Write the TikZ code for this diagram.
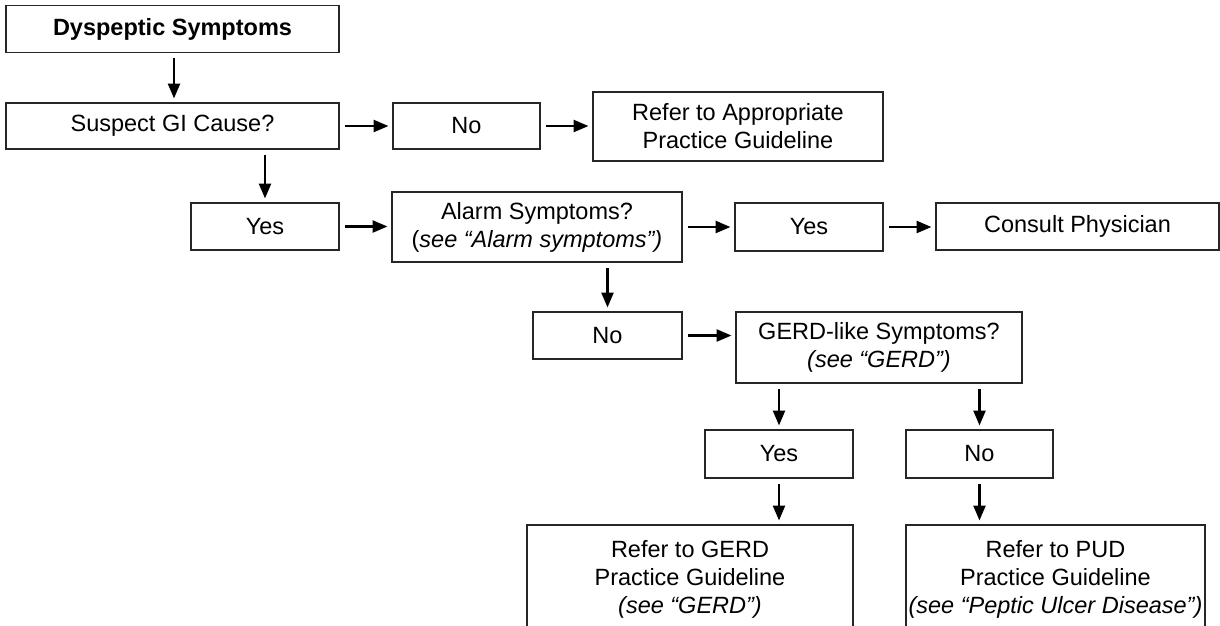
\documentclass[tikz,border=0pt]{standalone}
\usepackage{fontspec}
\setmainfont{Liberation Sans}
\usetikzlibrary{arrows.meta,calc}
\begin{document}
\begin{tikzpicture}[x=1pt,y=-1pt,
  box/.style={draw=black!85, line width=1.3pt, inner sep=0pt, outer sep=0pt, align=center,
    font=\fontsize{23.5}{28}\selectfont},
  txt/.style={inner sep=0pt, outer sep=0pt, align=center, font=\fontsize{23.5}{28}\selectfont},
  arr/.style={-{Triangle[length=15pt,width=12pt]}, line width=2.5pt, shorten <=6pt, shorten >=4.5pt}]
\useasboundingbox (0,0) rectangle (1220,625);
\clip (0,0) rectangle (1220,625);

\node[box, minimum width=333, minimum height=46.5] (dys) at (172.5,29) {\bfseries Dyspeptic Symptoms};
\node[box, minimum width=333, minimum height=46] (sus) at (172.5,126) {Suspect GI Cause?};
\node[box, minimum width=147, minimum height=46] (no1) at (466.5,126) {No};
\node[box, minimum width=290, minimum height=69] (ref1) at (738,126.5) {Refer to Appropriate\\Practice Guideline};
\node[box, minimum width=148, minimum height=47] (yes1) at (265,226.5) {Yes};
\node[box, minimum width=290, minimum height=70] (alarm) at (537,227) {Alarm Symptoms?\\({\itshape see “Alarm symptoms”)}};
\node[box, minimum width=148, minimum height=48] (yes2) at (809,227) {Yes};
\node[box, minimum width=283, minimum height=47] (cons) at (1077.5,226.5) {Consult Physician};
\node[box, minimum width=149, minimum height=47] (no2) at (607.5,335.5) {No};
\node[box, minimum width=286, minimum height=71] (gerdq) at (879,347.5) {GERD-like Symptoms?\\{\itshape (see “GERD”)}};
\node[box, minimum width=148, minimum height=48] (yes3) at (779,454) {Yes};
\node[box, minimum width=147, minimum height=48] (no3) at (979.5,454) {No};
\node[box, minimum width=326, minimum height=200, anchor=north] (gref) at (690,525) {};
\node[box, minimum width=299, minimum height=200, anchor=north] (pref) at (1055.5,525) {};
\node[txt, anchor=north] (greft) at (690,540) {Refer to GERD\\Practice Guideline\\{\itshape (see “GERD”)}};
\node[txt, anchor=north] (preft) at (1055.5,540) {Refer to PUD\\Practice Guideline\\{\itshape (see “Peptic Ulcer Disease”)}};

\draw[arr] (dys.south -| 174,0) -- (sus.north -| 174,0);
\draw[arr] (sus.east) -- (no1.west);
\draw[arr] (no1.east) -- (no1.east -| ref1.west);
\draw[arr] (sus.south -| yes1.north) -- (yes1.north);
\draw[arr] (yes1.east) -- (yes1.east -| alarm.west);
\draw[arr] (alarm.east) -- (alarm.east -| yes2.west);
\draw[arr] (yes2.east) -- (yes2.east -| cons.west);
\draw[arr] (alarm.south -| no2.north) -- (no2.north);
\draw[arr] (no2.east) -- (no2.east -| gerdq.west);
\draw[arr] (gerdq.south -| yes3.north) -- (yes3.north);
\draw[arr] (gerdq.south -| no3.north) -- (no3.north);
\draw[arr] (yes3.south) -- (yes3.south |- gref.north);
\draw[arr] (no3.south) -- (no3.south |- pref.north);
\end{tikzpicture}
\end{document}
